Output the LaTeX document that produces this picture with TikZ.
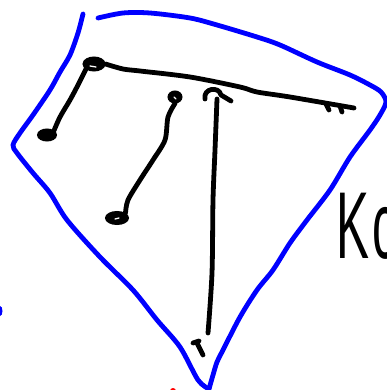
\documentclass[tikz,border=0pt]{standalone}
\usepackage{fontspec}
\setmainfont{Liberation Sans}
\usetikzlibrary{shapes.geometric}
\begin{document}
\begin{tikzpicture}[x=1pt,y=-1pt,
  ink/.style={line width=4.8pt,line cap=round,line join=round},
  blueink/.style={ink,draw=blue},
  blackink/.style={ink,draw=black},
  loopnode/.style={ellipse,draw=black,fill=black,line width=2pt,inner sep=0pt},
  glint/.style={draw=white,line width=1.3pt,line cap=round}]
\useasboundingbox (0,0) rectangle (387,390);
\clip (0,0) rectangle (387,390);
% blue outline
\draw[blueink] plot[smooth,tension=0.5] coordinates {(83,14) (78,33) (70,55) (60,72) (50,90) (33,115) (20,133) (13,145) (17,153) (33,173) (50,193) (67,220) (100,257) (133,290) (157,320) (180,347) (198,380) (209,389)};
\draw[blueink] plot[smooth,tension=0.5] coordinates {(209,389) (213,375) (217,362) (223,350) (240,317) (257,290) (273,270) (290,243) (307,220) (330,190) (350,157) (370,130) (380,115) (386,102) (381,92) (370,85) (350,75) (317,62) (280,45) (257,37) (217,25) (190,18) (150,13) (123,13) (98,18)};
% endpoint loops
\node[loopnode,minimum width=21pt,minimum height=13pt] (c1) at (94,64) {};
\draw[glint] (90,66) -- (96,67);
\node[loopnode,minimum width=18pt,minimum height=11pt] (c2) at (47,135) {};
\node[loopnode,minimum width=13pt,minimum height=11pt] (c3) at (175,97) {};
\draw[glint] (174,97) -- (176,99);
\node[loopnode,minimum width=22pt,minimum height=12pt] (c4) at (117,218) {};
\draw[glint] (115,219) -- (119,218);
\coordinate (c5) at (217,99);
\coordinate (e1) at (354,108);
\coordinate (e5) at (208,333);
% hook at c5
\draw[blackink] (205,99) .. controls (203,88) and (219,86) .. (221,95) -- (231,101);
% connectors
\draw[blackink] plot[smooth,tension=0.5] coordinates {(c1.east) (123,69) (140,71) (190,77) (240,87) (257,92) (290,97) (e1)};
\draw[blackink] (326,104) -- (329,110);
\draw[blackink] (340,106) -- (342,112);
\draw[blackink] plot[smooth,tension=0.5] coordinates {(c1.south west) (78,85) (70,100) (60,117) (c2.north east)};
\draw[blackink] plot[smooth,tension=0.5] coordinates {(c3.south) (168,117) (165,140) (153,160) (140,180) (128,200) (c4.north east)};
\draw[blackink] plot[smooth,tension=0.5] coordinates {(c5) (215,150) (213,200) (212,273) (e5)};
% small tick
\draw[blackink] (193,343) -- (199,341);
\draw[blackink] (197,343) -- (203,355);
% handwritten text
\node[anchor=base west,inner sep=0pt] (txt) at (336,258) {\scalebox{0.52}[1]{\fontsize{95}{95}\selectfont K\kern6pt c}};
% stray dots
\fill[blue] (0,311) ellipse (2.5 and 5);
\fill[red] (173,391) circle (3);
\end{tikzpicture}
\end{document}
